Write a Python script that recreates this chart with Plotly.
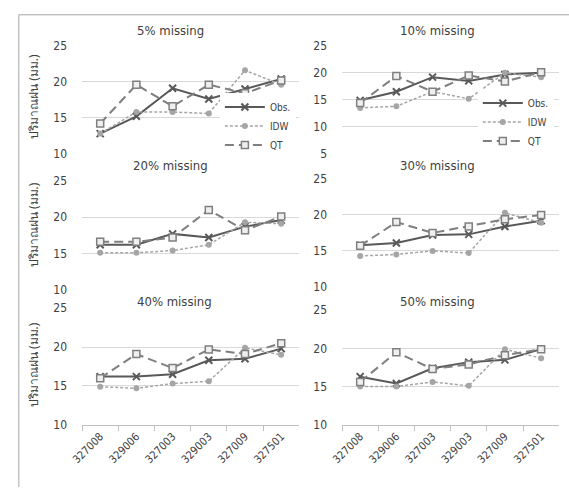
import plotly.graph_objects as go

# Stations on the x axis
stations = ["327008", "329006", "327003", "329003", "327009", "327501"]

# Panel titles (share of missing records)
panel_titles = ["5% missing", "10% missing", "20% missing",
                "30% missing", "40% missing", "50% missing"]

# Observed rainfall (mm) per panel
obs_5 = [12.8, 15.2, 19.1, 17.6, 19.0, 20.4]
obs_10 = [14.9, 16.5, 19.2, 18.5, 19.7, 20.0]
obs_20 = [16.2, 16.2, 17.7, 17.2, 18.7, 19.6]
obs_30 = [15.8, 16.1, 17.2, 17.3, 18.4, 19.2]
obs_40 = [16.2, 16.2, 16.5, 18.3, 18.5, 19.8]
obs_50 = [16.3, 15.4, 17.4, 18.2, 18.5, 19.9]

# IDW estimates (mm)
idw_5 = [12.8, 15.8, 15.8, 15.6, 21.6, 19.6]
idw_10 = [13.5, 13.8, 16.5, 15.2, 20.0, 19.2]
idw_20 = [15.1, 15.1, 15.4, 16.2, 19.3, 19.1]
idw_30 = [14.3, 14.5, 15.0, 14.7, 20.3, 18.9]
idw_40 = [14.9, 14.7, 15.3, 15.6, 19.9, 19.0]
idw_50 = [15.0, 15.0, 15.6, 15.1, 19.9, 18.7]

# QT estimates (mm)
qt_5 = [14.2, 19.6, 16.6, 19.6, 18.4, 20.2]
qt_10 = [14.4, 19.4, 16.5, 19.5, 18.4, 20.1]
qt_20 = [16.6, 16.6, 17.2, 21.0, 18.2, 20.1]
qt_30 = [15.7, 19.0, 17.5, 18.4, 19.4, 20.0]
qt_40 = [16.0, 19.1, 17.3, 19.7, 19.1, 20.5]
qt_50 = [15.6, 19.5, 17.3, 17.9, 19.1, 19.9]

obs_all = [obs_5, obs_10, obs_20, obs_30, obs_40, obs_50]
idw_all = [idw_5, idw_10, idw_20, idw_30, idw_40, idw_50]
qt_all = [qt_5, qt_10, qt_20, qt_30, qt_40, qt_50]

y_ranges = [[10, 25], [5, 25], [10, 25], [10, 25], [10, 25], [10, 25]]
y_ticks = [[10, 15, 20, 25], [5, 10, 15, 20, 25], [10, 15, 20, 25],
           [10, 15, 20, 25], [10, 15, 20, 25], [10, 15, 20, 25]]

W, H = 569, 494
FONT = "'DejaVu Sans Condensed', 'DejaVu Sans', 'Noto Sans', sans-serif"
THAI_FONT = "'Noto Sans', sans-serif"
TXT = "#404040"

def px_x(v):
    return v / W

def px_y(v):
    return 1 - v / H

# plot areas in pixels: (left, right, top, bottom)
areas = [
    (72.5, 294, 40, 151),
    (337.6, 559, 40, 151),
    (72.5, 294, 179, 291),
    (337.6, 559, 177, 288),
    (72.5, 294, 310, 430),
    (337.6, 559, 312, 430),
]
title_pos = [(163, 24), (435, 24), (163, 163), (435, 163), (167, 303), (435, 303)]

C_OBS = "#595959"
C_IDW = "#a5a5a5"
C_QT = "#7f7f7f"

fig = go.Figure()
layout = {}
annotations = []

for i in range(6):
    n = "" if i == 0 else str(i + 1)
    xa, ya = "x" + n, "y" + n
    left, right, top, bottom = areas[i]
    legend_name = "legend" if i == 0 else ("legend2" if i == 1 else None)
    show = legend_name is not None

    common = dict(x=stations, xaxis=xa, yaxis=ya, mode="lines+markers")
    fig.add_trace(go.Scatter(
        y=obs_all[i], name="Obs.", showlegend=show,
        legend=legend_name or "legend",
        line=dict(color=C_OBS, width=2),
        marker=dict(symbol="x-thin", size=7, line=dict(color=C_OBS, width=2)),
        **common))
    fig.add_trace(go.Scatter(
        y=idw_all[i], name="IDW", showlegend=show,
        legend=legend_name or "legend",
        line=dict(color=C_IDW, width=1.5, dash="3px,2px"),
        marker=dict(symbol="circle", size=6, color=C_IDW),
        **common))
    fig.add_trace(go.Scatter(
        y=qt_all[i], name="QT", showlegend=show,
        legend=legend_name or "legend",
        line=dict(color=C_QT, width=2, dash="9px,5px"),
        marker=dict(symbol="square", size=7, color="#efefef",
                    line=dict(color=C_QT, width=1.5)),
        **common))

    bottom_row = i >= 4
    layout["xaxis" + n] = dict(
        domain=[px_x(left), px_x(right)], anchor=ya,
        type="category", range=[-0.5, 5.5],
        showgrid=False, zeroline=False,
        showline=bottom_row, linecolor="#bfbfbf", linewidth=1,
        ticks="outside" if bottom_row else "", tickson="boundaries",
        ticklen=5, tickcolor="#bfbfbf",
        showticklabels=bottom_row, tickangle=-45,
        tickfont=dict(family=FONT, size=11, color=TXT),
    )
    layout["yaxis" + n] = dict(
        domain=[px_y(bottom), px_y(top)], anchor=xa,
        range=y_ranges[i], tickvals=y_ticks[i],
        showgrid=True, gridcolor="#d9d9d9", gridwidth=1,
        zeroline=False, showline=False, ticks="",
        ticklabelstandoff=14,
        tickfont=dict(family=FONT, size=12, color=TXT),
    )
    tx, ty = title_pos[i]
    annotations.append(dict(
        text=panel_titles[i], x=px_x(tx), y=px_y(ty), xref="paper", yref="paper",
        xanchor="center", yanchor="middle", showarrow=False,
        font=dict(family=FONT, size=13, color=TXT)))

# y-axis titles for the left column
for yc in (92, 224, 368):
    annotations.append(dict(
        text="ปริมาณฝน (มม.)", x=px_x(23), y=px_y(yc), xref="paper", yref="paper",
        xanchor="center", yanchor="middle", textangle=-90, showarrow=False,
        font=dict(family=THAI_FONT, size=12, color=TXT)))

legend_style = dict(
    bgcolor="white", borderwidth=0, xanchor="left", yanchor="top",
    font=dict(family=FONT, size=10, color=TXT), tracegroupgap=0,
    itemwidth=40,
)

fig.update_layout(
    width=W, height=H,
    margin=dict(l=0, r=0, t=0, b=0),
    paper_bgcolor="white", plot_bgcolor="white",
    annotations=annotations,
    legend=dict(x=px_x(213), y=px_y(88), **legend_style),
    legend2=dict(x=px_x(476), y=px_y(84), **legend_style),
    shapes=[
        dict(type="line", xref="paper", yref="paper",
             x0=px_x(8), x1=1, y0=px_y(8), y1=px_y(8),
             line=dict(color="#a6a6a6", width=1)),
        dict(type="line", xref="paper", yref="paper",
             x0=px_x(8), x1=px_x(8), y0=px_y(8), y1=0,
             line=dict(color="#a6a6a6", width=1)),
    ],
    **layout,
)

fig.write_html("out.html")
